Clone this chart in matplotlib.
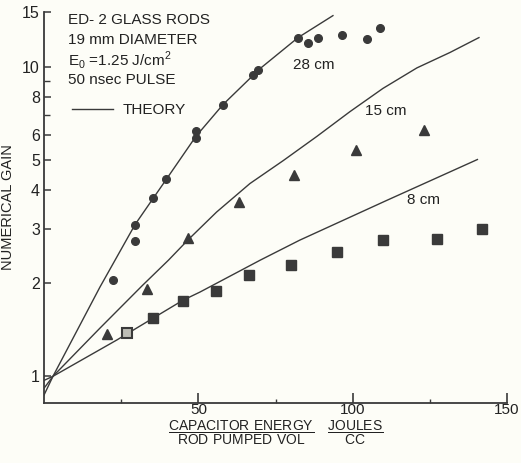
import matplotlib
matplotlib.use("Agg")
import matplotlib.pyplot as plt

# measured gain, 28 cm rod (circles)
x28 = [22.4, 29.5, 29.5, 35.3, 39.5, 49.2, 49.2, 58.0, 67.7, 69.3, 82.3, 85.5, 88.8, 96.5, 104.6, 108.8]
g28 = [2.04, 2.73, 3.09, 3.75, 4.32, 5.90, 6.17, 7.54, 9.42, 9.71, 12.4, 11.9, 12.4, 12.6, 12.3, 13.3]
# 15 cm rod (triangles)
x15 = [20.4, 33.4, 46.6, 63.2, 81.0, 101.1, 123.1]
g15 = [1.37, 1.91, 2.79, 3.64, 4.45, 5.36, 6.26]
# 8 cm rod (squares)
x8 = [26.9, 35.3, 45.0, 55.7, 66.4, 80.0, 94.9, 109.8, 127.3, 141.9]
g8 = [1.38, 1.54, 1.75, 1.89, 2.12, 2.28, 2.51, 2.75, 2.77, 2.98]

# theory curves
tx28 = [0, 2.9, 18.1, 29.5, 39.8, 49.2, 58.0, 70.0, 82.3, 93.6]
tg28 = [0.87, 1.0, 1.94, 3.09, 4.35, 5.95, 7.54, 9.85, 12.4, 14.6]
tx15 = [0, 2.9, 18.1, 32.0, 40.3, 46.7, 55.9, 66.7, 77.5, 88.4, 99.1, 109.8, 120.8, 131.5, 140.9]
tg15 = [0.915, 1.0, 1.43, 1.97, 2.37, 2.76, 3.39, 4.19, 4.97, 5.95, 7.15, 8.50, 9.90, 11.1, 12.4]
tx8 = [0, 2.9, 23.6, 35.3, 45.0, 50.5, 70.0, 82.8, 111.1, 140.4]
tg8 = [0.97, 1.0, 1.31, 1.54, 1.76, 1.87, 2.37, 2.75, 3.70, 5.01]

yticks = [1, 2, 3, 4, 5, 6, 8, 10, 15]
ytick_minor = [7, 9]
xticks = [50, 100, 150]
xtick_minor = [25, 75, 125]

bg = "#fdfdf7"
ink = "#3a3a3a"
txt = "#222222"
plt.rcParams["font.family"] = ["Liberation Sans", "DejaVu Sans"]

fig = plt.figure(figsize=(5.21, 4.63), dpi=100, facecolor=bg)
ax = fig.add_axes([0.0845, 0.1296, 0.8887, 0.8445], facecolor=bg)

theory, = ax.plot(tx28, tg28, color=ink, lw=1.0)
ax.plot(tx15, tg15, color=ink, lw=1.0)
ax.plot(tx8, tg8, color=ink, lw=1.0)

ax.plot(x28, g28, "o", color=ink, ms=5.5, ls="none")
ax.plot(x15, g15, "^", color=ink, ms=7.5, ls="none")
ax.plot(x8[1:], g8[1:], "s", color=ink, ms=6.5, ls="none")
ax.plot(x8[:1], g8[:1], "s", mfc="#bdbdb5", mec=ink, mew=1.5, ms=6.5, ls="none")

ax.set_yscale("log")
ax.set_xlim(0, 150)
ax.set_ylim(0.82, 15)
ax.set_yticks(yticks, [str(v) for v in yticks])
ax.set_yticks(ytick_minor, minor=True)
ax.set_xticks(xticks, [str(v) for v in xticks])
ax.set_xticks(xtick_minor, minor=True)
ax.yaxis.set_minor_formatter(plt.NullFormatter())
ax.tick_params(which="both", direction="in", color=ink, labelcolor=txt, labelsize=11.5)
ax.tick_params(axis="y", which="major", length=5, width=1.1, pad=3)
ax.tick_params(axis="y", which="minor", length=4, width=1.0)
ax.tick_params(axis="x", which="major", length=7, width=1.2, pad=0, labelsize=11)
ax.tick_params(axis="x", which="minor", length=3, width=1.0)

for s in ["top", "right"]:
    ax.spines[s].set_visible(False)
for s in ["left", "bottom"]:
    ax.spines[s].set_color(ink)
    ax.spines[s].set_linewidth(1.3)

ax.set_ylabel("NUMERICAL GAIN", fontsize=10.5, color=txt)
ax.yaxis.set_label_coords(-0.063, 0.5)
ax.set_xlabel(r"$\dfrac{\mathregular{CAPACITOR\ ENERGY}}{\mathregular{ROD\ PUMPED\ VOL}}\quad"
              r"\dfrac{\mathregular{JOULES}}{\mathregular{CC}}$", fontsize=10, color=txt,
              labelpad=1)

info = ["ED- 2 GLASS RODS", "19 mm DIAMETER", r"E$_\mathregular{0}$ =1.25 J/cm$^\mathregular{2}$",
        "50 nsec PULSE"]
for i, s in enumerate(info):
    ax.text(0.052, 0.98 - i * 0.051, s, transform=ax.transAxes, fontsize=11,
            color=txt, va="center", ha="left")

ax.legend([theory], ["THEORY"], loc="center left", bbox_to_anchor=(0.06, 0.749),
          frameon=False, borderpad=0, borderaxespad=0, handlelength=2.7,
          handletextpad=0.6, fontsize=11, labelcolor=txt)

ax.text(80.7, 10.1, "28 cm", fontsize=11, color=txt, va="center")
ax.text(104, 7.21, "15 cm", fontsize=11, color=txt, va="center")
ax.text(117.6, 3.70, "8 cm", fontsize=11, color=txt, va="center")

fig.savefig("out.png", dpi=100, facecolor=bg)
